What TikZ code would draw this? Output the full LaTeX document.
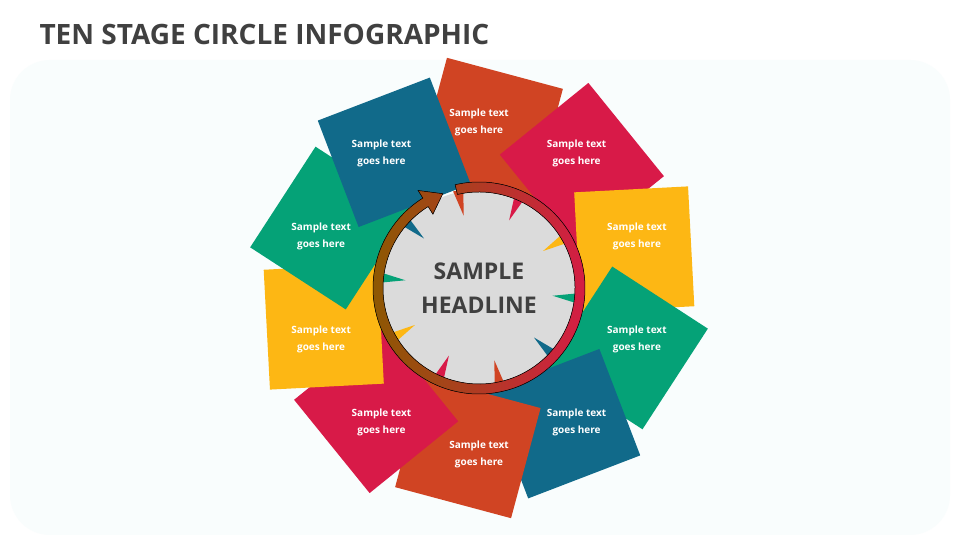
\documentclass[tikz,border=0pt]{standalone}
\usepackage{fontspec}
\setmainfont{Open Sans}
\usetikzlibrary{calc,positioning}
\definecolor{cOrange}{HTML}{D04423}
\definecolor{cCrimson}{HTML}{D81A48}
\definecolor{cYellow}{HTML}{FDB714}
\definecolor{cGreen}{HTML}{05A277}
\definecolor{cBlue}{HTML}{116A8A}
\definecolor{cBrown}{HTML}{8A5A00}
\definecolor{cText}{HTML}{404040}
\definecolor{cBack}{HTML}{F9FDFD}
\tikzset{
    stagebox/.style = {rectangle, minimum width=120pt, minimum height=114pt, inner sep=0pt},
    stagetext/.style = {text=white, font=\bfseries\fontsize{10}{17}\selectfont, align=center},
    headline/.style = {text=cText, font=\bfseries\fontsize{23}{34}\selectfont, align=center},
}
\begin{document}
\begin{tikzpicture}[x=1pt,y=1pt]
		% background and title
		\useasboundingbox (0,0) rectangle (960,540);
		\fill[white] (0,0) rectangle (960,540);
		\fill[cBack, rounded corners=40pt] (10,5) rectangle (950,480);
		\node[anchor=west, text=cText, font=\bfseries\fontsize{28}{32}\selectfont] (title) at (36,506) {TEN STAGE CIRCLE INFOGRAPHIC};
		
		\coordinate (C) at (479,252);
		
		% stage boxes
		\foreach \ang/\col/\i in {90/cOrange/1,54/cCrimson/2,18/cYellow/3,-18/cGreen/4,-54/cBlue/5,-90/cOrange/6,-126/cCrimson/7,-162/cYellow/8,162/cGreen/9,126/cBlue/10}{
			\node[stagebox, fill=\col, rotate=\ang-105] (stage\i) at ($(C)+(\ang-4:160)$) {};
		}
		
		% centre
		\fill[gray!28] (C) circle (98);
		\foreach \ang/\col/\i in {90/cOrange/1,54/cCrimson/2,18/cYellow/3,-18/cGreen/4,-54/cBlue/5,-90/cOrange/6,-126/cCrimson/7,-162/cYellow/8,162/cGreen/9,126/cBlue/10}{
			\fill[\col] ($(C)+(\ang+12:74)$) -- ($(C)+(\ang+9:100)$) -- ($(C)+(\ang+15:100)$) -- cycle;
		}
		
		% ring arrow
		\filldraw[draw=black, line width=0.5pt, left color=cBrown, right color=cCrimson]
			($(C)+(103:106)$) arc[start angle=103, end angle=-238, radius=106]
			-- ($(C)+(-238:115)$) -- ($(C)+(-249:101)$) -- ($(C)+(-238:87)$)
			-- ($(C)+(-238:96)$) arc[start angle=-238, end angle=103, radius=96] -- cycle;
		
		\node[headline] (head) at (C) {SAMPLE\\HEADLINE};
		
		% labels
		\foreach \ang/\i in {90/1,54/2,18/3,-18/4,-54/5,-90/6,-126/7,-162/8,162/9,126/10}{
			\node[stagetext] (txt\i) at ($(C)+(\ang:166)$) {Sample text\\goes here};
		}
	\end{tikzpicture}
\end{document}
